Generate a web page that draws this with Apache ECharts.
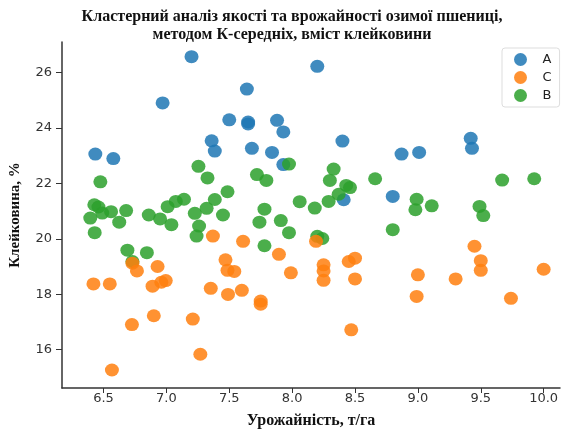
<!DOCTYPE html>
<html>
<head>
<meta charset="utf-8">
<script src="https://cdn.jsdelivr.net/npm/echarts@6/dist/echarts.min.js"></script>
<style>html,body{margin:0;padding:0;background:#fff}#c{width:566px;height:434px}</style>
</head>
<body>
<div id="c"></div>
<script>
const xTicks = [6.5, 7.0, 7.5, 8.0, 8.5, 9.0, 9.5, 10.0];
const yTicks = [16, 18, 20, 22, 24, 26];

const xA = [7.20, 7.64, 8.20, 6.97, 7.50, 7.65, 7.65, 7.88, 7.93, 7.36, 7.385, 7.68, 7.84, 8.40, 8.87, 9.01, 9.42, 9.43, 6.435, 6.578, 7.93, 8.80, 8.41];
const yA = [26.58, 25.41, 26.23, 24.91, 24.30, 24.15, 24.22, 24.28, 23.86, 23.54, 23.17, 23.27, 23.12, 23.53, 23.06, 23.12, 23.63, 23.27, 23.06, 22.90, 22.68, 21.53, 21.41];

const xB = [7.255, 7.327, 6.475, 7.486, 7.385, 6.427, 6.46, 6.56, 6.68, 6.49, 6.395, 6.625, 6.43, 6.86, 6.95, 7.04, 7.01, 7.075, 7.14, 7.226, 7.32, 7.45, 7.26, 7.24, 6.69, 6.845, 6.73, 7.975, 7.72, 7.795, 8.33, 8.30, 8.43, 8.46, 8.37, 8.66, 8.06, 8.18, 8.29, 7.78, 7.74, 7.91, 7.975, 8.20, 8.24, 7.78, 8.80, 9.67, 9.925, 8.99, 9.11, 8.98, 9.49, 9.52];
const yB = [22.62, 22.20, 22.06, 21.70, 21.42, 21.23, 21.15, 20.98, 21.02, 20.93, 20.75, 20.60, 20.22, 20.86, 20.72, 20.51, 21.16, 21.35, 21.43, 20.92, 21.10, 20.86, 20.46, 20.10, 19.59, 19.50, 19.18, 22.70, 22.32, 22.11, 22.52, 22.11, 21.93, 21.85, 21.61, 22.17, 21.34, 21.11, 21.35, 21.07, 20.60, 20.66, 20.22, 20.09, 20.01, 19.75, 20.33, 22.12, 22.17, 21.43, 21.19, 21.05, 21.17, 20.84];

const xC = [7.37, 7.47, 7.486, 6.93, 6.73, 6.766, 6.42, 6.55, 6.89, 6.96, 6.995, 7.353, 7.49, 6.90, 6.726, 7.21, 7.27, 6.567, 7.54, 7.60, 7.75, 7.75, 7.99, 8.25, 8.25, 8.25, 8.50, 8.47, 8.45, 8.50, 7.61, 7.895, 8.19, 9.45, 9.50, 9.50, 10.0, 9.0, 9.30, 8.99, 9.74];
const yC = [20.10, 19.24, 18.86, 19.00, 19.12, 18.84, 18.37, 18.37, 18.29, 18.43, 18.49, 18.21, 17.99, 17.22, 16.90, 17.10, 15.83, 15.26, 18.82, 18.14, 17.75, 17.64, 18.77, 19.06, 18.84, 18.50, 18.55, 16.71, 19.18, 19.30, 19.91, 19.44, 19.91, 19.73, 19.21, 18.86, 18.90, 18.70, 18.55, 17.92, 17.85];

const pairs = (xs, ys) => xs.map((x, i) => [x, ys[i]]);

const chart = echarts.init(document.getElementById('c'), null, {renderer: 'canvas', width: 566, height: 434});
const mk = (name, color, data) => ({
  name, type: 'scatter', data,
  symbol: 'circle', symbolSize: [14, 13],
  itemStyle: {color, opacity: 0.85},
  emphasis: {disabled: true}
});
chart.setOption({
  animation: false,
  backgroundColor: '#fff',
  title: {
    text: 'Кластерний аналіз якості та врожайності озимої пшениці,\nметодом К-середніх, вміст клейковини',
    left: 287, top: 3, textAlign: 'center',
    textStyle: {fontFamily: 'Liberation Serif', fontWeight: 'bold', fontSize: 16, lineHeight: 18, color: '#111'}
  },
  grid: {left: 61, width: 499, top: 42, height: 351, containLabel: false},
  xAxis: {
    type: 'value', min: 6.17, max: 10.13,
    name: 'Урожайність, т/га', nameLocation: 'middle', nameGap: 25,
    nameTextStyle: {fontFamily: 'Liberation Serif', fontWeight: 'bold', fontSize: 16, color: '#111'},
    axisLine: {show: true, lineStyle: {color: '#333', width: 1.5}},
    axisTick: {show: true, length: 5, customValues: xTicks, lineStyle: {color: '#333'}},
    axisLabel: {customValues: xTicks, formatter: v => v.toFixed(1), fontFamily: 'DejaVu Sans', fontSize: 13, color: '#333', margin: 4},
    splitLine: {show: false}
  },
  yAxis: {
    type: 'value', min: 14.61, max: 27.11,
    name: 'Клейковина, %', nameLocation: 'middle', nameGap: 39,
    nameTextStyle: {fontFamily: 'Liberation Serif', fontWeight: 'bold', fontSize: 15, color: '#111'},
    axisLine: {show: true, lineStyle: {color: '#333', width: 1.5}},
    axisTick: {show: true, length: 6, customValues: yTicks, lineStyle: {color: '#333'}},
    axisLabel: {customValues: yTicks, fontFamily: 'DejaVu Sans', fontSize: 13, color: '#333', margin: 10},
    splitLine: {show: false}
  },
  legend: {
    data: ['A', 'C', 'B'],
    orient: 'vertical', left: 502, top: 48,
    icon: 'circle', itemWidth: 14, itemHeight: 13, itemGap: 5,
    padding: [5, 8, 5, 12],
    borderColor: '#ddd', borderWidth: 1, borderRadius: 3,
    textStyle: {fontFamily: 'DejaVu Sans', fontSize: 13, color: '#222', padding: [0, 0, 0, 10]}
  },
  series: [
    mk('A', '#1f77b4', pairs(xA, yA)),
    mk('B', '#2ca02c', pairs(xB, yB)),
    mk('C', '#ff7f0e', pairs(xC, yC))
  ]
});
</script>
</body>
</html>
